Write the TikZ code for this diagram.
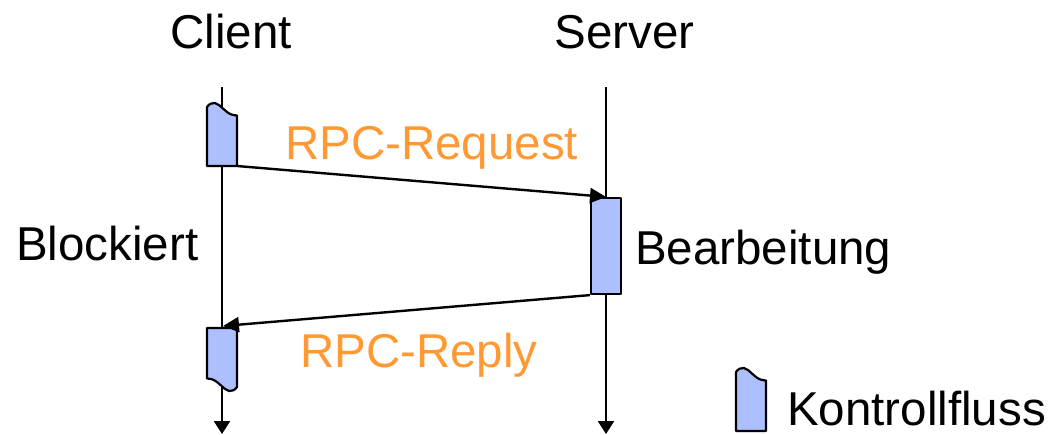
\documentclass[tikz,border=0pt]{standalone}
\usepackage{fontspec}
\setmainfont{Liberation Sans}
\usetikzlibrary{arrows.meta}
\definecolor{flowfill}{RGB}{173,191,255}
\definecolor{msgorange}{RGB}{255,153,51}
% control-flow box with a wavy top edge; origin at the top-left corner
\newcommand\kfshape[1]{(0,0) .. controls (2,-3) and (5,-4.5) .. (8,-4)
  .. controls (14,-2.5) and (18,6) .. (26,8) -- (30,8.5) -- (30,#1) -- (0,#1) -- cycle}
\begin{document}
\begin{tikzpicture}[x=1pt,y=-1pt,
  lbl/.style={inner sep=0pt,font=\fontsize{47.5}{57}\selectfont},
  msg/.style={lbl,text=msgorange},
  flow/.style={draw=black,line width=2.2pt,fill=flowfill,line join=round},
  life/.style={line width=2.4pt,-{Triangle[length=13pt,width=16pt]}},
  call/.style={line width=2.4pt,-{Triangle[length=16pt,width=15pt]}}]
\useasboundingbox (0,0) rectangle (1062,434);

% headings
\node[lbl,anchor=base] (client) at (231,48) {Client};
\node[lbl,anchor=base] (server) at (624.5,48) {Server};

% lifelines
\coordinate (ctop) at (222,87);
\coordinate (cend) at (222,434);
\coordinate (stop) at (606,87);
\coordinate (send) at (606,434);
\draw[life] (ctop) -- (cend);
\draw[life] (stop) -- (send);

% client activity before the call
\begin{scope}[shift={(207,107)}]
  \draw[flow] \kfshape{59};
  \coordinate (c1br) at (30,59);
\end{scope}

% server activity
\node[flow,minimum width=30pt,minimum height=96pt,inner sep=0pt] (srv) at (606,246) {};

% client activity after the reply (same shape turned upside down)
\begin{scope}[shift={(237,387)},rotate=180]
  \draw[flow] \kfshape{59};
\end{scope}
\coordinate (c2in) at (223,326);

% messages
\draw[call] (c1br) -- (srv.north);
\draw[call] (srv.south west) -- (c2in);

% labels
\node[msg,anchor=base west] (req) at (285,159) {RPC-Request};
\node[msg,anchor=base west] (rep) at (300,367) {RPC-Reply};
\node[lbl,anchor=base west] (blk) at (16,260) {Blockiert};
\node[lbl,anchor=base west] (bea) at (635,264) {Bearbeitung};

% legend
\begin{scope}[shift={(736,372)}]
  \draw[flow] \kfshape{59};
\end{scope}
\node[lbl,anchor=base west] (kf) at (787,425) {Kontrollfluss};
\end{tikzpicture}
\end{document}
